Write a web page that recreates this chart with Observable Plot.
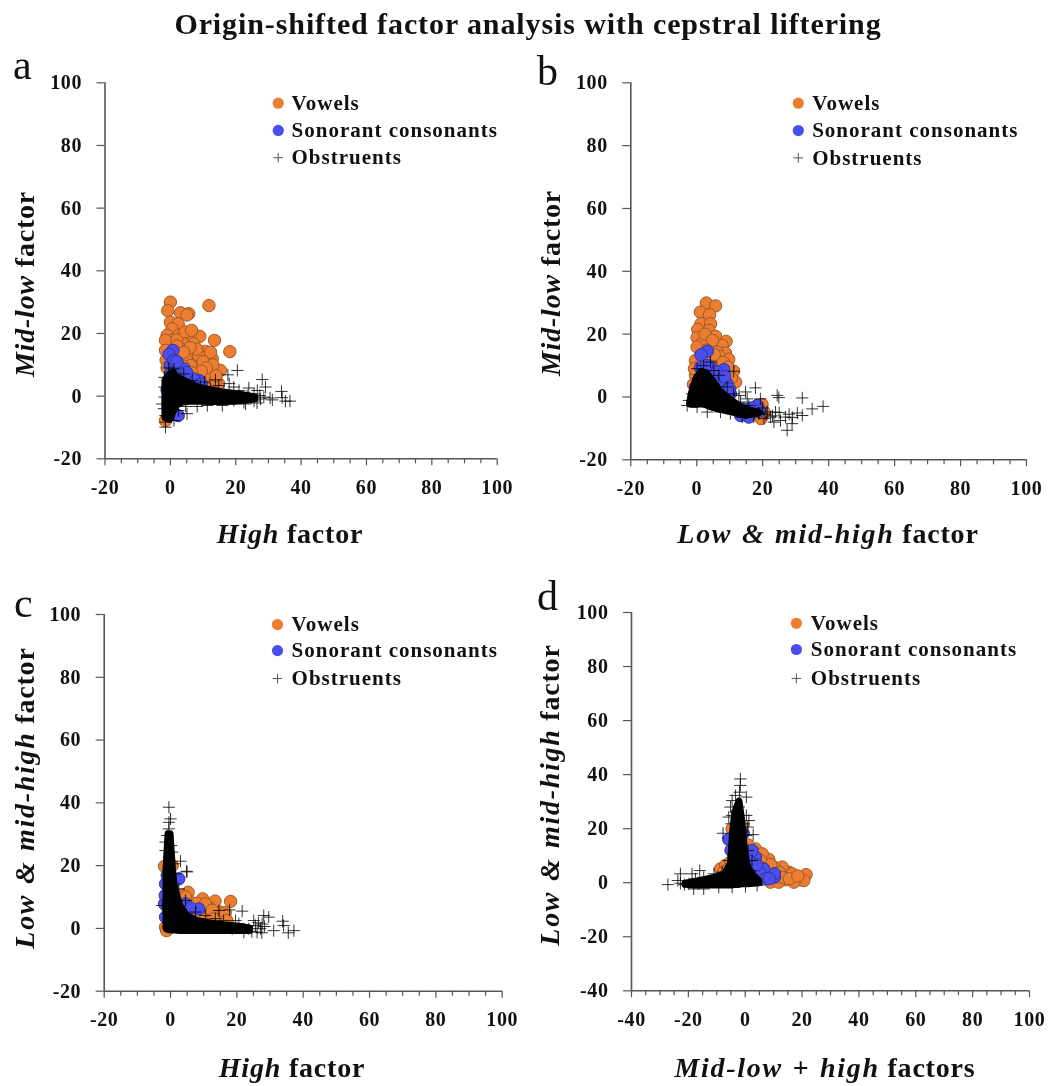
<!DOCTYPE html>
<html><head><meta charset="utf-8">
<script src="https://cdn.jsdelivr.net/npm/d3@7"></script>
<script src="https://cdn.jsdelivr.net/npm/@observablehq/plot@0.6"></script>
<style>
html,body{margin:0;padding:0;background:#fff}
#page{position:relative;width:1049px;height:1086px;overflow:hidden;font-family:"Liberation Serif",serif;color:#111;filter:blur(.45px)}
#page svg{position:absolute;background:transparent;overflow:visible}
#page svg text{letter-spacing:.6px}
#page svg .lg text{letter-spacing:1px}
.t{position:absolute;white-space:nowrap;font-weight:bold;line-height:1;letter-spacing:.8px}
.t i{font-weight:bold}
.wide i{letter-spacing:1.7px;word-spacing:1px}
.y{transform:translate(-50%,-50%) rotate(-90deg)}
.x{transform:translate(-50%,0)}
.l{position:absolute;font-size:42px;line-height:1}
</style></head><body><div id="page"></div>
<script>
const pageTitle = "Origin-shifted factor analysis with cepstral liftering";
const legendLabels = ["Vowels", "Sonorant consonants", "Obstruents"];
const ticks100 = [-20, 0, 20, 40, 60, 80, 100];
const ticksD = [-40, -20, 0, 20, 40, 60, 80, 100];
const minor20 = [-15,-10,-5,5,10,15,25,30,35,45,50,55,65,70,75,85,90,95];
const minorD = [-35,-30,-25,-15,-10,-5,5,10,15,25,30,35,45,50,55,65,70,75,85,90,95];

// Panel a: High factor vs Mid-low factor
const aVowels = [[0,30],[11.8,28.9],[-.8,27.3],[3.1,26.6],[5.6,26.3],[5.1,25.9],[0,23.6],[2.4,23.1],[.5,21.5],[-1,19.4],[2.6,19.4],[9,19.1],[5.9,18.3],[13.5,17.8],[.6,17.8],[3.6,17.2],[7.2,16.7],[-.4,16.2],[1.6,15.6],[18.2,14.2],[10.7,14.3],[6.2,13.3],[9.7,12.4],[12.8,11.9],[3.1,12.6],[8.7,8.7],[13.2,8.2],[15.3,8.2],[11.3,7.1],[14.8,3.9],[11.8,3.9],[-1.5,-7.8],[5.1,11.4],[7.7,10.3],[10.2,9.8],[3.1,15.1],[8.7,13],[12.3,14],[-1.5,17.8],[-1.5,14.6],[11.8,6],[13.8,5],[6.2,9.8],[9,6],[2,18],[4.5,20.5],[6.5,21],[8,15],[1,12],[4,9.5],[10,11],[13,10],[6,15.5],[2,16],[.5,13],[-1.3,11.5],[-1,9],[4,14],[11,9],[14,6.5],[9.5,8],[6.5,7.5]];
const aSonorants = [[.8,14.6],[-.4,13.3],[0,9.8],[2,9],[4.1,8.7],[5.7,6],[8.7,5],[-.5,5],[2.4,-6.2],[1,11.4],[3,7.1],[7,5.5],[5,7.5],[2,11],[0,7],[6,3.5],[-1,2],[1.5,6.5],[9.5,3.8]];
const aDense = [[-1.5,-7,5],[0,-7.5,7],[1,-5,7.5],[2,-3,6],[4,-2,5],[6,-1.8,4],[9,-1.8,2.6],[12,-1.9,2],[16,-1.9,1.2],[20,-1.8,.7],[24,-1.4,0],[26,-1,-.4]];
const aObstruents = [[20.5,8.2],[17.6,6.8],[28.1,5.3],[29.1,2.9],[34,1.5],[34.2,-.5],[36.6,-1.6],[35.2,-1.6],[31.2,-1.2],[26.6,1.8],[25.6,.7],[27.4,.2],[19.4,2.9],[21,1.8],[14.8,3.4],[13.8,5.2],[5.1,-5.6],[-1.5,-9.9],[-1.5,-8.3],[-2.5,-2.5],[11.3,-3],[15.9,-3],[22.5,-2],[19.4,-1.4],[25.6,-1.6],[27.6,-.9],[23.5,.2],[28.6,-.3],[16.4,1.3],[12.3,2.3],[9.2,3.2],[6.7,5],[4.1,7.1],[1.1,8.7],[-.5,9],[-1.8,6],[-1.8,2.9],[-1.8,-.3],[-2,-4],[-1.5,-6.2],[1.1,-7.8],[2.5,-4.6],[4.7,-3.3],[8.2,-3.3],[24,2.6],[30.5,-.6],[26.5,-2.2],[18,4],[10.5,4.5],[23,-2.5]];

// Panel b: Low & mid-high factor vs Mid-low factor
const bVowels = [[2.9,29.9],[5.7,29],[1.1,27],[3.9,26.2],[1.3,23.3],[4.2,23.3],[.3,21.5],[3.7,21.2],[3.2,19.1],[5.7,19.3],[.1,18.9],[8.9,17.7],[1.6,17],[5.2,17],[7.7,16.4],[.1,15.9],[8.7,14],[6.2,14.3],[9.7,12],[6.7,11.6],[-.4,11.6],[11.2,8.2],[11.8,4.7],[19.8,-2.4],[19.5,-6.9],[20.4,-4.8],[4.2,11.6],[-.4,6.9],[2.5,20],[4.8,18],[6.8,13],[3,15],[5.3,13.5],[2,12],[8,11],[1,10],[9.5,9.5],[10.5,6],[-.7,9],[-1,4]];
const bSonorants = [[3.2,14.6],[1.3,13.4],[1.1,9.3],[4.2,9.5],[8.2,8.7],[9.2,4.2],[7.2,5.3],[-.4,3.1],[18.3,-2.7],[15.8,-6.4],[13.3,-5.9],[10.2,1],[6.2,6.3],[6,8],[8.5,6.5],[10,2.5],[3,10],[-.5,1],[16.5,-3.5],[12,-4],[14,-3.8],[19,-4.5]];
const bDense = [[-2,-2.4,-2],[-1.5,-2.5,1],[0,-2.5,6],[1.5,-2.2,8],[3,-2.7,7.5],[5,-3.5,5],[7,-4,2],[9,-4.5,0],[11,-5,-1.5],[13,-5.5,-3],[15,-6,-4],[17,-5.5,-4.5],[19,-5.2,-5]];
const bObstruents = [[17.8,2.9],[24.4,.5],[32,-.3],[38.3,-3],[35,-3.8],[32,-5.9],[27.4,-10.6],[28.9,-8.5],[25.4,-7.5],[22.4,-6.4],[21.4,-4.8],[23.9,-4.8],[26.9,-6.4],[30.5,-5.1],[14.8,1.6],[12.8,.5],[11.2,8.2],[15.3,-.6],[15.8,-2.7],[13.3,-1.6],[19.3,-.6],[-2.9,-2.7],[4.2,11.1],[2.1,10],[.1,9],[5.2,8.4],[6.7,6.9],[9.2,3.2],[11.2,1],[-1.4,1],[-2.4,-1.1],[.1,-3.2],[3.2,-4.8],[7.2,-4.8],[10.2,-5.3],[13.8,-6.4],[17.3,-6.4],[20.4,-6.9],[23.4,-8],[10.7,-2.7],[18.8,-5.3],[24.9,-.2],[23,-6],[25,-5],[28,-5.5],[21,-5.5],[20,-3.5],[29,-6.5]];

// Panel c: High factor vs Low & mid-high factor
const cVowels = [[18.1,8.6],[13.4,8.7],[9.7,9.4],[5.3,11.5],[3.5,10.5],[6,8.4],[11.5,6.8],[15,5.2],[11.5,4.1],[14,3.6],[9.5,5.2],[-1.8,19.8],[.5,20],[-1.5,.4],[-1.2,-.7],[4,8.4],[16,3.6],[7.5,6.8],[8,8],[10.5,7.8],[12.5,5.8],[16.5,5],[13,3],[6.5,6],[4.5,10],[9,3.5],[17,2.5]];
const cSonorants = [[2.5,15.8],[-1,16.9],[-1.5,14.2],[4.5,7.8],[8.5,6.2],[3,5.7],[-1.5,3.6],[-1.8,7.8],[.5,13],[1,9],[6,6.5],[3.5,3.5],[-1.6,10.5]];
const cDense = [[-1.2,-.2,19],[-.6,-.5,30],[0,-.6,30],[.7,-.7,19],[1.3,-.7,13],[3,-.8,7],[5,-.8,4],[8,-.8,2.4],[12,-.8,1.6],[16,-.8,1],[20,-.8,.6],[24,-.8,0]];
const cObstruents = [[-.5,38.6],[0,34.9],[-.5,33.8],[-.5,31.7],[-1,29.6],[-1.5,27.5],[.2,26.4],[-1.5,24.8],[.5,24.3],[-.5,22.7],[3,21.4],[4.8,18.2],[5,18],[-2.5,7.3],[17.8,5.9],[21.6,5.5],[28.1,4.1],[29.6,3.6],[33.8,2.3],[34.1,.9],[37.2,-.7],[35.5,-1.4],[31.1,-.7],[27.1,-.1],[27.6,1.4],[25.1,2.5],[26.1,-1.2],[19.6,2.5],[20.6,1.5],[22.1,-1.2],[23.6,-.1],[18.6,-.1],[16,2.5],[13.5,3.1],[10.5,4.1],[7.5,5.2],[4.5,8.9],[2.5,12.6],[1.5,17.4],[1,20.6],[14.6,5.7],[25.6,.9],[28.3,.6],[26.5,1.8],[24.5,-1],[27.5,-1.4]];

// Panel d: Mid-low + high factors vs Low & mid-high factor
const dVowels = [[21.4,3],[19.4,1.1],[20.6,.8],[17.7,1.4],[15.3,3.9],[13,5.8],[16.5,3.3],[14.2,1.1],[11.2,2.7],[8.3,8.6],[3.6,12.5],[6,10.7],[10.1,5.8],[-8.7,5.1],[-6.9,6.4],[-5.2,7.6],[-4.6,19.9],[-1.1,20.6],[-4,13.8],[5.4,8.2],[8.9,.2],[11.8,.2],[17.1,.2],[7.7,2],[1,14],[5,6],[9,6.7],[12,3.8],[-3,9],[-7.5,4],[-6,5],[13,2],[15.5,1.5],[18.5,2.5]];
const dSonorants = [[10.3,2.1],[10.3,3.3],[-5.8,16],[-.7,18.3],[3.6,9.5],[6.5,5.1],[5.4,3.3],[7.1,1.4],[2.4,11.9],[1.5,8],[4,6.5],[8.5,1.5],[-5,12],[-3,17.5]];
const dDense = [[-21,-.8,-.4],[-18,-1,.2],[-14,-1,1],[-10,-1,2],[-7,-1,3.2],[-5,-1,7],[-4.3,-1,18],[-3.5,-.8,26],[-2,-.8,30],[-1.2,-.6,24],[-.2,-.6,13],[.8,-.6,6],[3,-.4,2.5],[5,-.2,.6]];
const dObstruents = [[-1.7,38.4],[-1.7,36],[-2,33.5],[-3.4,32.3],[.4,31.7],[-4.6,30.4],[-2.2,28],[-5.2,28],[-4.6,24.9],[.4,24.9],[-5.8,24.3],[1.3,23],[-.5,21.8],[-7.8,18.3],[2.8,17.8],[.9,20.6],[-4.9,21.8],[-27.2,-.7],[-23.7,.8],[-22.8,3.3],[-21.4,-.7],[-18.7,3.3],[-16,4.5],[-17.5,1.4],[-19.8,-.4],[-14.6,2],[-18.1,-2.3],[-14.6,-2.3],[-11,3.3],[-8.1,3.9],[-9.3,-1.7],[-4.6,-1.7],[.1,-1.4],[4.2,-1],[1.9,4.5],[2.4,8.2],[1,11.9],[-5.8,8.2],[-4,14.4],[.4,17.5],[-22.8,-.2]];

const panels = [
 {k:"a",left:0,top:0,w:525,h:530,x0:104.5,x1:496.7,y0:458.3,y1:82.3,xd:[-20,100],yd:[-20,100],xt:ticks100,yt:ticks100,mt:minor20,
  v:aVowels,s:aSonorants,o:aObstruents,dn:aDense,lg:[33,37.07],ly:[93.5,84.8,76.1]},
 {k:"b",left:525,top:0,w:524,h:530,x0:105.3,x1:501,y0:459.3,y1:82.3,xd:[-20,100],yd:[-20,100],xt:ticks100,yt:ticks100,mt:minor20,
  v:bVowels,s:bSonorants,o:bObstruents,dn:bDense,lg:[30.8,35],ly:[93.5,84.8,76.1]},
 {k:"c",left:0,top:530,w:525,h:556,x0:103.7,x1:501.7,y0:460.7,y1:84,xd:[-20,100],yd:[-20,100],xt:ticks100,yt:ticks100,mt:minor20,
  v:cVowels,s:cSonorants,o:cObstruents,dn:cDense,lg:[32.25,36.5],ly:[96.8,88.5,79.6]},
 {k:"d",left:525,top:530,w:524,h:556,x0:106,x1:504,y0:460.3,y1:82,xd:[-40,100],yd:[-40,100],xt:ticksD,yt:[-40,-20,0,20,40,60,80,100],mt:minorD,
  v:dVowels,s:dSonorants,o:dObstruents,dn:dDense,lg:[18,23.07],ly:[96,86.3,75.6]}
];

const page = document.getElementById("page");
const axisColor = "#555";
const fmt = d => String(d);

for (const p of panels) {
  const svg = Plot.plot({
    width:p.w, height:p.h,
    marginLeft:p.x0, marginRight:p.w-p.x1, marginTop:p.y1, marginBottom:p.h-p.y0,
    style:{fontFamily:"Liberation Serif, serif", background:"transparent", color:"#111", left:p.left+"px", top:p.top+"px"},
    x:{domain:p.xd}, y:{domain:p.yd},
    marks:[
      Plot.axisX({ticks:p.mt, tickSize:5, stroke:axisColor, strokeWidth:1.2, text:null, label:null}),
      Plot.axisX({ticks:p.xt, tickSize:7, tickPadding:14, tickFormat:fmt, stroke:axisColor, strokeWidth:1.2, fontSize:20, fontWeight:"bold", fill:"#111", label:null}),
      Plot.axisY({ticks:p.yt, tickSize:8, tickPadding:15, tickFormat:fmt, stroke:axisColor, strokeWidth:1.2, fontSize:20, fontWeight:"bold", fill:"#111", label:null}),
      Plot.ruleX([p.xd[0]],{stroke:axisColor,strokeWidth:1.6}),
      Plot.ruleY([p.yd[0]],{stroke:axisColor,strokeWidth:1.6}),
      Plot.dot(p.v,{x:d=>d[0],y:d=>d[1],r:6.2,fill:"#ED7D31",stroke:"#9c5a28",strokeWidth:1}),
      Plot.dot(p.s,{x:d=>d[0],y:d=>d[1],r:6.2,fill:"#4a4df0",stroke:"#33368f",strokeWidth:1}),
      Plot.areaY(p.dn,{x:d=>d[0],y1:d=>d[1],y2:d=>d[2],fill:"#000",stroke:"#000",strokeWidth:7,strokeLinejoin:"round"}),
      Plot.dot(p.o,{x:d=>d[0],y:d=>d[1],symbol:"plus",r:4,stroke:"#000",strokeWidth:1,strokeOpacity:.8}),
      Plot.dot([p.ly[0]],{x:()=>p.lg[0],y:d=>d,r:5.6,fill:"#ED7D31"}),
      Plot.dot([p.ly[1]],{x:()=>p.lg[0],y:d=>d,r:5.6,fill:"#4a4df0"}),
      Plot.dot([p.ly[2]],{x:()=>p.lg[0],y:d=>d,symbol:"plus",r:3.2,stroke:"#555",strokeWidth:1}),
      Plot.text(legendLabels.map((t,i)=>({t,y:p.ly[i]})),{x:()=>p.lg[1],y:d=>d.y,text:d=>d.t,textAnchor:"start",fontSize:21,fontWeight:"bold",fill:"#111",className:"lg"})
    ]
  });
  page.appendChild(svg);
}

function add(html, cls, css){
  const e=document.createElement("div"); e.className=cls; e.innerHTML=html; Object.assign(e.style,css); page.appendChild(e);
}
add(pageTitle,"t x",{left:"528px",top:"9px",fontSize:"30px",letterSpacing:".9px"});
const fs="28px";
add("<i>High</i> factor","t x",{left:"290px",top:"520px",fontSize:fs});
add("<i>Low &amp; mid-high</i> factor","t x wide",{left:"828px",top:"520px",fontSize:fs});
add("<i>High</i> factor","t x",{left:"292px",top:"1054px",fontSize:fs});
add("<i>Mid-low + high</i> factors","t x wide",{left:"825px",top:"1054px",fontSize:fs});
add("<i>Mid-low</i> factor","t y",{left:"25px",top:"284px",fontSize:fs});
add("<i>Mid-low</i> factor","t y",{left:"551px",top:"283px",fontSize:fs});
add("<i>Low &amp; mid-high</i> factor","t y wide",{left:"25px",top:"798px",fontSize:fs});
add("<i>Low &amp; mid-high</i> factor","t y wide",{left:"550px",top:"795px",fontSize:fs});
add("a","l",{left:"13px",top:"44px"});
add("b","l",{left:"537px",top:"50px"});
add("c","l",{left:"14px",top:"582px"});
add("d","l",{left:"537px",top:"575px"});
</script></body></html>
